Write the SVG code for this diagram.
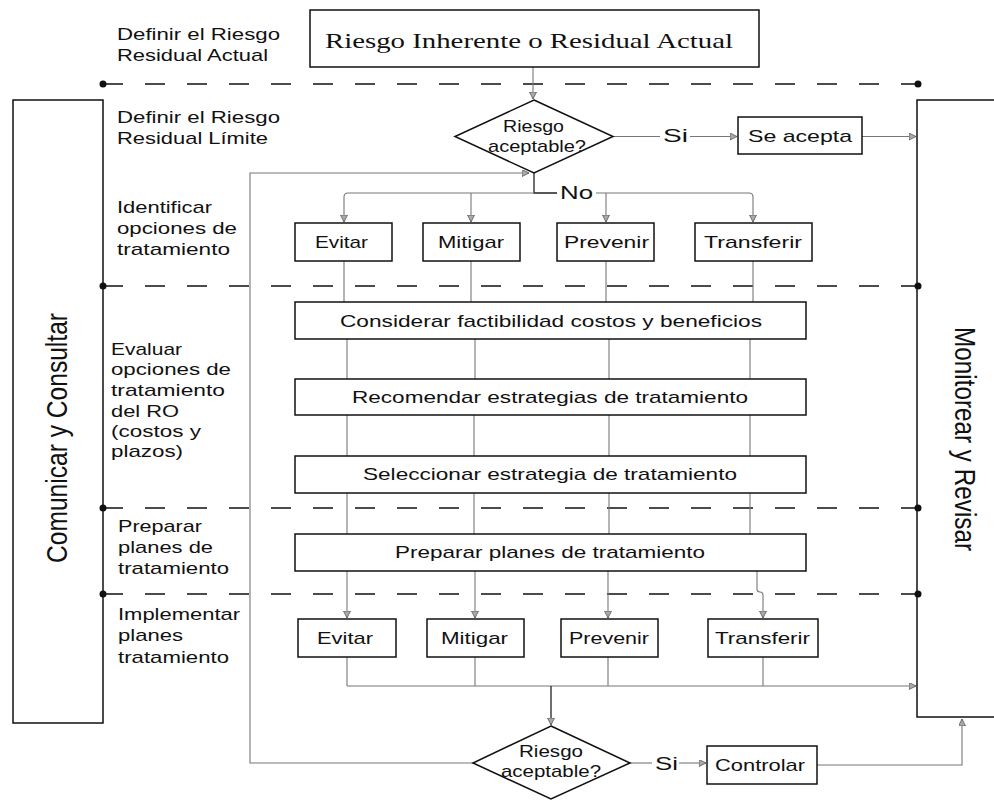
<svg xmlns="http://www.w3.org/2000/svg" width="994" height="800" viewBox="0 0 994 800">
<style>
.box{fill:#fff;stroke:#111;stroke-width:1.5}
.dash{fill:none;stroke:#111;stroke-width:1.5;stroke-dasharray:20 22}
.conn{fill:none;stroke:#777;stroke-width:1.1}
.dark{fill:none;stroke:#222;stroke-width:1.3}
.t{font-family:"Liberation Sans",Arial,sans-serif;font-size:17px;fill:#111}
.big{font-family:"Liberation Sans",Arial,sans-serif;font-size:24px;fill:#111}
.serif{font-family:"Liberation Serif","Times New Roman",serif;font-size:21px;fill:#111}
.dot{fill:#111}
</style>
<defs>
<marker id="arr" markerUnits="userSpaceOnUse" markerWidth="9" markerHeight="9" refX="7" refY="3.5" orient="auto">
<path d="M0,0 L7,3.5 L0,7 z" fill="#aaa" stroke="#555" stroke-width="0.8"/>
</marker>
</defs>
<rect width="994" height="800" fill="#fff"/>

<g id="separators">
<line class="dash" x1="103" y1="84" x2="918" y2="84"/>
<line class="dash" x1="103" y1="286" x2="918" y2="286"/>
<line class="dash" x1="103" y1="508" x2="918" y2="508"/>
<line class="dash" x1="103" y1="594" x2="918" y2="594"/>
</g>

<g id="side-left">
<rect class="box" x="13" y="100" width="90" height="623"/>
<text class="big" transform="translate(67,438) scale(1.22,1) rotate(-90)" text-anchor="middle" textLength="250" lengthAdjust="spacingAndGlyphs">Comunicar y Consultar</text>
</g>
<g id="side-right">
<rect class="box" x="917" y="100" width="90" height="617"/>
<text class="big" transform="translate(955,439) scale(1.22,1) rotate(90)" text-anchor="middle" textLength="224" lengthAdjust="spacingAndGlyphs">Monitorear y Revisar</text>
</g>

<g id="dots">
<circle class="dot" cx="103" cy="84" r="3.5"/><circle class="dot" cx="918" cy="84" r="3.5"/>
<circle class="dot" cx="103" cy="286" r="3.5"/><circle class="dot" cx="918" cy="286" r="3.5"/>
<circle class="dot" cx="103" cy="508" r="3.5"/><circle class="dot" cx="918" cy="508" r="3.5"/>
<circle class="dot" cx="103" cy="594" r="3.5"/><circle class="dot" cx="918" cy="594" r="3.5"/>
</g>

<g id="labels" class="t">
<g id="lbl-actual"><text x="117" y="40" textLength="163" lengthAdjust="spacingAndGlyphs">Definir el Riesgo</text><text x="117" y="61" textLength="151" lengthAdjust="spacingAndGlyphs">Residual Actual</text></g>
<g id="lbl-limite"><text x="117" y="123" textLength="163" lengthAdjust="spacingAndGlyphs">Definir el Riesgo</text><text x="117" y="144" textLength="151" lengthAdjust="spacingAndGlyphs">Residual Límite</text></g>
<g id="lbl-identificar"><text x="117" y="213" textLength="95" lengthAdjust="spacingAndGlyphs">Identificar</text><text x="117" y="234" textLength="120" lengthAdjust="spacingAndGlyphs">opciones de</text><text x="117" y="255" textLength="113" lengthAdjust="spacingAndGlyphs">tratamiento</text></g>
<g id="lbl-evaluar"><text x="111" y="355" textLength="71" lengthAdjust="spacingAndGlyphs">Evaluar</text><text x="111" y="375" textLength="120" lengthAdjust="spacingAndGlyphs">opciones de</text><text x="111" y="396" textLength="114" lengthAdjust="spacingAndGlyphs">tratamiento</text><text x="111" y="417" textLength="68" lengthAdjust="spacingAndGlyphs">del RO</text><text x="111" y="437" textLength="90" lengthAdjust="spacingAndGlyphs">(costos y</text><text x="111" y="457" textLength="72" lengthAdjust="spacingAndGlyphs">plazos)</text></g>
<g id="lbl-preparar"><text x="118" y="532" textLength="84" lengthAdjust="spacingAndGlyphs">Preparar</text><text x="118" y="553" textLength="95" lengthAdjust="spacingAndGlyphs">planes de</text><text x="118" y="574" textLength="111" lengthAdjust="spacingAndGlyphs">tratamiento</text></g>
<g id="lbl-implementar"><text x="118" y="620" textLength="122" lengthAdjust="spacingAndGlyphs">Implementar</text><text x="118" y="641" textLength="65" lengthAdjust="spacingAndGlyphs">planes</text><text x="118" y="663" textLength="111" lengthAdjust="spacingAndGlyphs">tratamiento</text></g>
</g>

<g id="connectors">
<path class="conn" d="M533,67 V99" marker-end="url(#arr)"/>
<path class="conn" d="M613,136.5 H660"/>
<path class="conn" d="M690,136.5 H737" marker-end="url(#arr)"/>
<path class="conn" d="M862,136.5 H916" marker-end="url(#arr)"/>
<path class="dark" d="M534,173 V193 H557"/>
<path class="conn" d="M596,193 H749 Q753,193 753,197 V222" marker-end="url(#arr)"/>
<path class="conn" d="M534,193 H348 Q344,193 344,197 V222" marker-end="url(#arr)"/>
<path class="conn" d="M471,193 V222" marker-end="url(#arr)"/>
<path class="conn" d="M606,193 V222" marker-end="url(#arr)"/>
<path class="conn" d="M473,763 H250 V173 H529" marker-end="url(#arr)"/>
<path class="conn" d="M344,261 V302 M471,261 V302 M606,261 V302 M753,261 V302"/>
<path class="conn" d="M347,339 V379 M475,339 V379 M609,339 V379 M750,339 V379"/>
<path class="conn" d="M347,415 V456 M474,415 V456 M609,415 V456 M750,415 V456"/>
<path class="conn" d="M347,493 V534 M474,493 V534 M609,493 V534 M750,493 V534"/>
<path class="conn" d="M347,571 V618" marker-end="url(#arr)"/>
<path class="conn" d="M475,571 V618" marker-end="url(#arr)"/>
<path class="conn" d="M608,571 V618" marker-end="url(#arr)"/>
<path class="conn" d="M757,571 V589 Q757,592 760,592 Q763,592 763,595 V618" marker-end="url(#arr)"/>
<path class="conn" d="M347,657 V686 M475,657 V686 M608,657 V686 M763,657 V686"/>
<path class="conn" d="M347,686 H916" marker-end="url(#arr)"/>
<path class="dark" d="M551,686 V725" marker-end="url(#arr)"/>
<path class="conn" d="M630,763 H652"/>
<path class="conn" d="M679,763 H706" marker-end="url(#arr)"/>
<path class="conn" d="M817,765 H962 V719" marker-end="url(#arr)"/>
</g>

<g id="n-top">
<rect class="box" x="310" y="10" width="449" height="57"/>
<text class="serif" x="325" y="48" textLength="408" lengthAdjust="spacingAndGlyphs">Riesgo Inherente o Residual Actual</text>
</g>
<g id="n-dec1">
<polygon class="box" points="534,100 613,136.5 534,173 455,136.5"/>
<text class="t" x="503" y="132" textLength="61" lengthAdjust="spacingAndGlyphs">Riesgo</text>
<text class="t" x="488" y="152" textLength="98" lengthAdjust="spacingAndGlyphs">aceptable?</text>
</g>
<g id="lbl-si1"><text class="t" style="font-size:19px" x="663" y="142" textLength="25" lengthAdjust="spacingAndGlyphs">Si</text></g>
<g id="lbl-no"><text class="t" style="font-size:19px" x="560" y="199" textLength="33" lengthAdjust="spacingAndGlyphs">No</text></g>
<g id="n-acepta">
<rect class="box" x="738" y="117" width="124" height="37"/>
<text class="t" x="748" y="142" textLength="104" lengthAdjust="spacingAndGlyphs">Se acepta</text>
</g>
<g id="n-evitar1"><rect class="box" x="295" y="223" width="97" height="38"/><text class="t" x="315" y="248" textLength="53" lengthAdjust="spacingAndGlyphs">Evitar</text></g>
<g id="n-mitigar1"><rect class="box" x="423" y="223" width="97" height="38"/><text class="t" x="438" y="248" textLength="66" lengthAdjust="spacingAndGlyphs">Mitigar</text></g>
<g id="n-prevenir1"><rect class="box" x="557" y="223" width="97" height="38"/><text class="t" x="564" y="248" textLength="85" lengthAdjust="spacingAndGlyphs">Prevenir</text></g>
<g id="n-transferir1"><rect class="box" x="695" y="223" width="117" height="38"/><text class="t" x="704" y="248" textLength="98" lengthAdjust="spacingAndGlyphs">Transferir</text></g>

<g id="n-considerar"><rect class="box" x="295" y="302" width="511" height="37"/><text class="t" x="340" y="327" textLength="422" lengthAdjust="spacingAndGlyphs">Considerar factibilidad costos y beneficios</text></g>
<g id="n-recomendar"><rect class="box" x="295" y="379" width="511" height="36"/><text class="t" x="352" y="403" textLength="396" lengthAdjust="spacingAndGlyphs">Recomendar estrategias de tratamiento</text></g>
<g id="n-seleccionar"><rect class="box" x="295" y="456" width="511" height="37"/><text class="t" x="363" y="480" textLength="374" lengthAdjust="spacingAndGlyphs">Seleccionar estrategia de tratamiento</text></g>
<g id="n-preparar"><rect class="box" x="295" y="534" width="511" height="37"/><text class="t" x="395" y="558" textLength="310" lengthAdjust="spacingAndGlyphs">Preparar planes de tratamiento</text></g>

<g id="n-evitar2"><rect class="box" x="298" y="619" width="98" height="38"/><text class="t" x="317" y="644" textLength="56" lengthAdjust="spacingAndGlyphs">Evitar</text></g>
<g id="n-mitigar2"><rect class="box" x="427" y="619" width="97" height="38"/><text class="t" x="441" y="644" textLength="67" lengthAdjust="spacingAndGlyphs">Mitigar</text></g>
<g id="n-prevenir2"><rect class="box" x="561" y="619" width="97" height="38"/><text class="t" x="569" y="644" textLength="80" lengthAdjust="spacingAndGlyphs">Prevenir</text></g>
<g id="n-transferir2"><rect class="box" x="708" y="619" width="110" height="38"/><text class="t" x="715" y="644" textLength="95" lengthAdjust="spacingAndGlyphs">Transferir</text></g>

<g id="n-dec2">
<polygon class="box" points="551,726 630,763 551,799 473,763"/>
<text class="t" x="519" y="757" textLength="64" lengthAdjust="spacingAndGlyphs">Riesgo</text>
<text class="t" x="501" y="777" textLength="100" lengthAdjust="spacingAndGlyphs">aceptable?</text>
</g>
<g id="lbl-si2"><text class="t" style="font-size:19px" x="655" y="770" textLength="23" lengthAdjust="spacingAndGlyphs">Si</text></g>
<g id="n-controlar">
<rect class="box" x="707" y="746" width="110" height="38"/>
<text class="t" x="715" y="771" textLength="90" lengthAdjust="spacingAndGlyphs">Controlar</text>
</g>
</svg>
